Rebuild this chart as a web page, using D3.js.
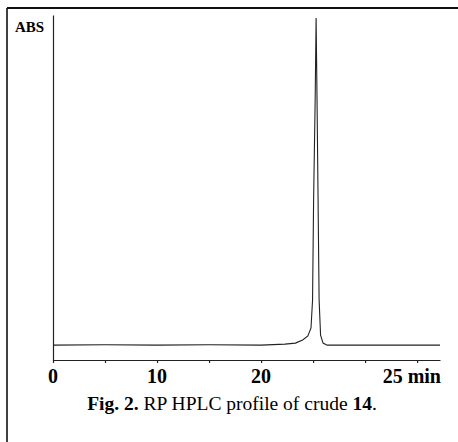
<!DOCTYPE html>
<html>
<head>
<meta charset="utf-8">
<script src="https://cdn.jsdelivr.net/npm/d3@7"></script>
<style>
  body { margin: 0; background: #fff; }
  svg text { font-family: "Liberation Serif", "DejaVu Serif", serif; fill: #000; }
</style>
</head>
<body>
<svg id="svg1" width="458" height="442"></svg>
<script>
"use strict";

// chromatogram trace (time in min, absorbance 0..1)
const timeMin = [0, 5, 10, 15, 20, 22.3, 23.3, 24.0, 24.5, 24.8, 24.95, 25.05, 25.2, 25.29, 25.38, 25.48, 25.58, 25.72, 25.96, 26.35, 30, 37.2];
const absorb  = [0.043, 0.044, 0.043, 0.044, 0.043, 0.046, 0.049, 0.058, 0.07, 0.093, 0.174, 0.464, 0.754, 0.991, 0.754, 0.464, 0.174, 0.072, 0.049, 0.043, 0.043, 0.043];

// axis labels
const xTickValues = [0, 10, 20];
const xTickLabels = ["0", "10", "20"];
const xUnitPos    = 37.2;           // "25 min" label is right aligned to the axis end
const xUnitLabel  = "25 min";
const minorTicks  = [0, 5, 10, 15, 20, 25, 30, 35];
const yLabel      = "ABS";
const caption     = ["Fig. 2.", " RP HPLC profile of crude ", "14", "."];

const svg = d3.select("#svg1");

// outer frame (only top and left edges show)
svg.append("line").attr("x1", 7).attr("y1", 8).attr("x2", 458).attr("y2", 8)
   .attr("stroke", "#111").attr("stroke-width", 2);
svg.append("line").attr("x1", 7).attr("y1", 8).attr("x2", 7).attr("y2", 442)
   .attr("stroke", "#111").attr("stroke-width", 1.6);

const x = d3.scaleLinear().domain([0, 37.2]).range([53, 440]);
const y = d3.scaleLinear().domain([0, 1]).range([360, 15]);

// x axis - small ticks, labels drawn seperately
svg.append("g")
   .attr("transform", `translate(0,${y(0)})`)
   .call(d3.axisBottom(x).tickValues(minorTicks).tickFormat("").tickSize(3).tickSizeOuter(0))
   .call(g => g.selectAll("path,line").attr("stroke", "#222").attr("stroke-width", 1.2));

// y axis, no ticks
svg.append("g")
   .attr("transform", `translate(${x(0)},0)`)
   .call(d3.axisLeft(y).tickValues([]).tickSizeOuter(0))
   .call(g => g.selectAll("path").attr("stroke", "#222").attr("stroke-width", 1.2));

svg.selectAll(".xlab")
   .data(xTickValues)
   .enter().append("text")
   .attr("class", "xlab")
   .attr("x", d => x(d))
   .attr("y", 383)
   .attr("text-anchor", "middle")
   .style("font-size", "20px").style("font-weight", "bold")
   .text((d, i) => xTickLabels[i]);

svg.append("text")
   .attr("x", x(xUnitPos) + 1).attr("y", 383)
   .attr("text-anchor", "end")
   .style("font-size", "20px").style("font-weight", "bold")
   .text(xUnitLabel);

svg.append("text")
   .attr("x", 15).attr("y", 32)
   .style("font-size", "15px").style("font-weight", "bold")
   .text(yLabel);

// the trace
const line = d3.line()
   .x((d, i) => x(timeMin[i]))
   .y(d => y(d));

svg.append("path")
   .datum(absorb)
   .attr("d", line)
   .attr("fill", "none")
   .attr("stroke", "#222")
   .attr("stroke-width", 1.1);

// caption, bold bits for figure number and compound
const cap = svg.append("text")
   .attr("x", 232).attr("y", 410)
   .attr("text-anchor", "middle")
   .style("font-size", "19.5px");
cap.selectAll("tspan")
   .data(caption)
   .enter().append("tspan")
   .style("font-weight", (d, i) => (i == 0 || i == 2) ? "bold" : "normal")
   .text(d => d);
</script>
</body>
</html>
